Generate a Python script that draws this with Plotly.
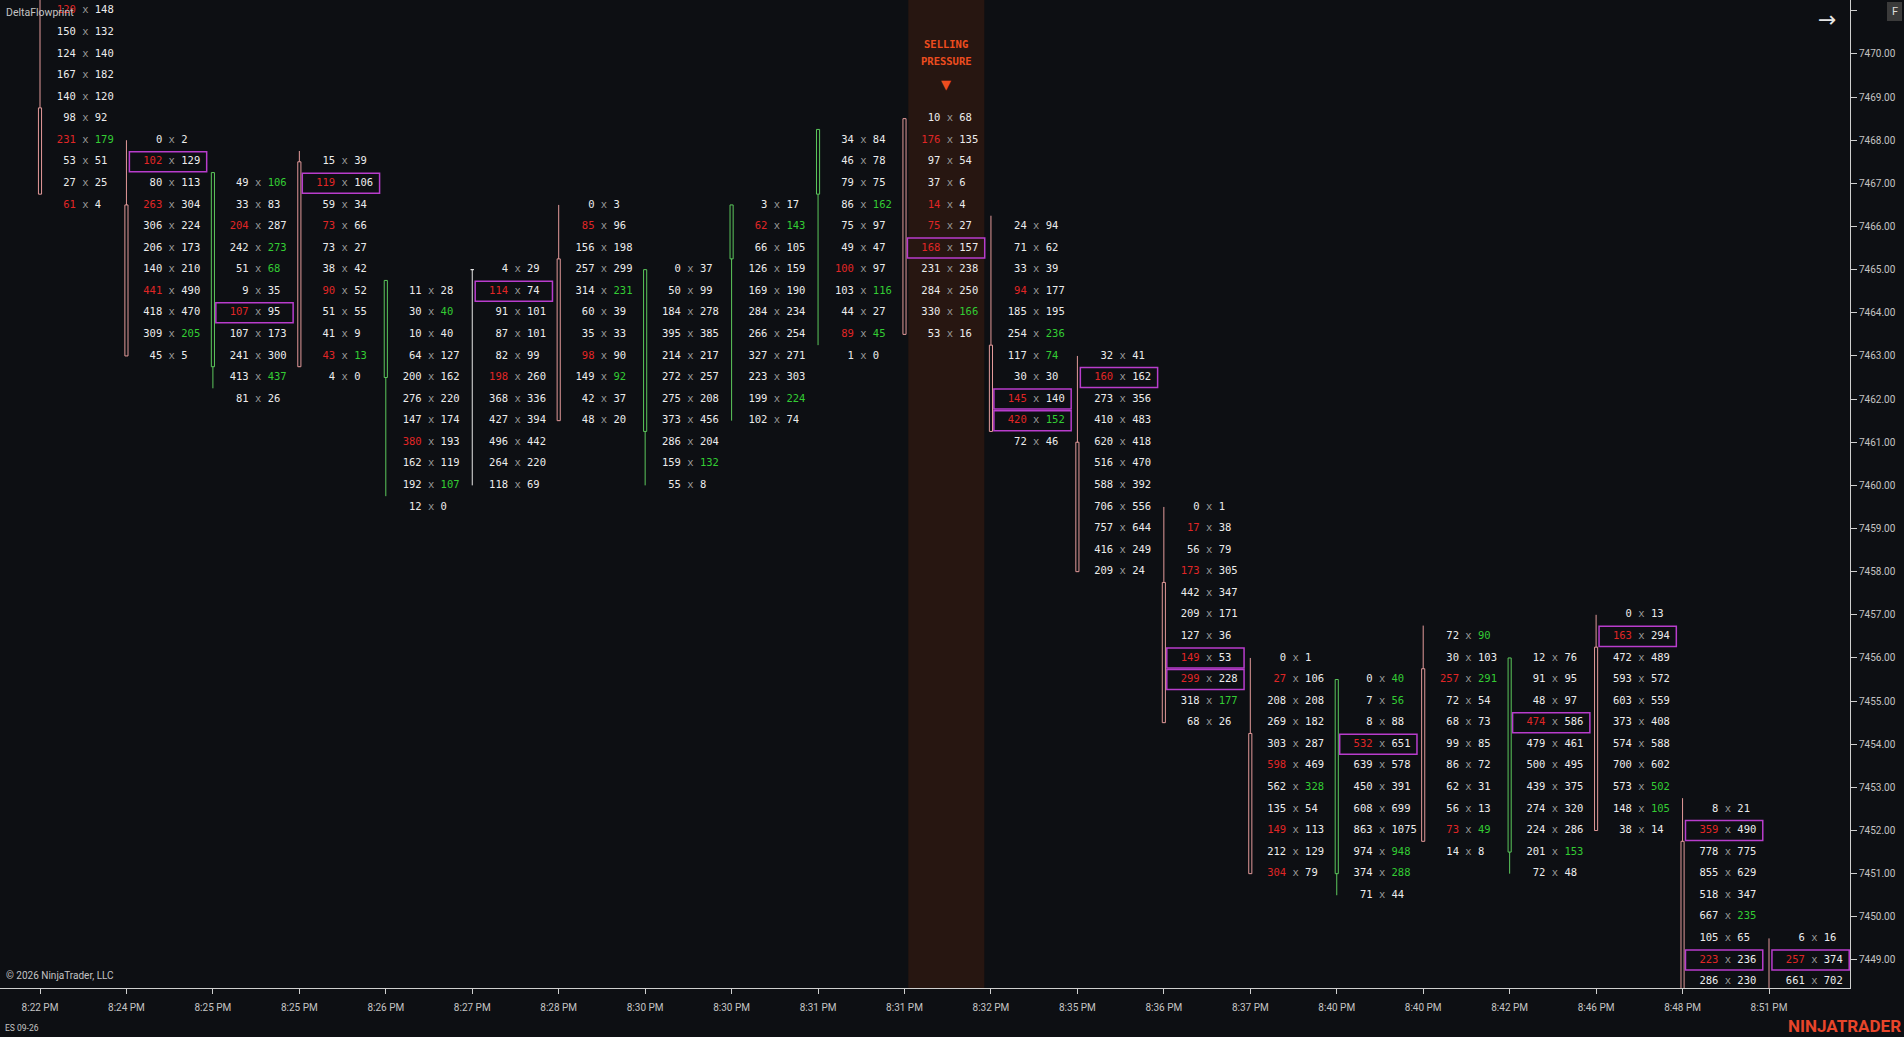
import plotly.graph_objects as go

# ---------------- data ----------------
time_labels = ["8:22 PM", "8:24 PM", "8:25 PM", "8:25 PM", "8:26 PM", "8:27 PM", "8:28 PM",
               "8:30 PM", "8:30 PM", "8:31 PM", "8:31 PM", "8:32 PM", "8:35 PM", "8:36 PM",
               "8:37 PM", "8:40 PM", "8:40 PM", "8:42 PM", "8:46 PM", "8:48 PM", "8:51 PM"]

# price of the top footprint row of every bar (rows step down by 0.5)
row_top = [7471.0, 7468.0, 7467.0, 7467.5, 7464.5, 7465.0, 7466.5, 7465.0, 7466.5, 7468.0,
           7468.5, 7466.0, 7463.0, 7459.5, 7456.0, 7455.5, 7456.5, 7456.0, 7457.0, 7452.5, 7449.5]

bids = [
    [120, 150, 124, 167, 140, 98, 231, 53, 27, 61],
    [0, 102, 80, 263, 306, 206, 140, 441, 418, 309, 45],
    [49, 33, 204, 242, 51, 9, 107, 107, 241, 413, 81],
    [15, 119, 59, 73, 73, 38, 90, 51, 41, 43, 4],
    [11, 30, 10, 64, 200, 276, 147, 380, 162, 192, 12],
    [4, 114, 91, 87, 82, 198, 368, 427, 496, 264, 118],
    [0, 85, 156, 257, 314, 60, 35, 98, 149, 42, 48],
    [0, 50, 184, 395, 214, 272, 275, 373, 286, 159, 55],
    [3, 62, 66, 126, 169, 284, 266, 327, 223, 199, 102],
    [34, 46, 79, 86, 75, 49, 100, 103, 44, 89, 1],
    [10, 176, 97, 37, 14, 75, 168, 231, 284, 330, 53],
    [24, 71, 33, 94, 185, 254, 117, 30, 145, 420, 72],
    [32, 160, 273, 410, 620, 516, 588, 706, 757, 416, 209],
    [0, 17, 56, 173, 442, 209, 127, 149, 299, 318, 68],
    [0, 27, 208, 269, 303, 598, 562, 135, 149, 212, 304],
    [0, 7, 8, 532, 639, 450, 608, 863, 974, 374, 71],
    [72, 30, 257, 72, 68, 99, 86, 62, 56, 73, 14],
    [12, 91, 48, 474, 479, 500, 439, 274, 224, 201, 72],
    [0, 163, 472, 593, 603, 373, 574, 700, 573, 148, 38],
    [8, 359, 778, 855, 518, 667, 105, 223, 286],
    [6, 257, 661],
]
asks = [
    [148, 132, 140, 182, 120, 92, 179, 51, 25, 4],
    [2, 129, 113, 304, 224, 173, 210, 490, 470, 205, 5],
    [106, 83, 287, 273, 68, 35, 95, 173, 300, 437, 26],
    [39, 106, 34, 66, 27, 42, 52, 55, 9, 13, 0],
    [28, 40, 40, 127, 162, 220, 174, 193, 119, 107, 0],
    [29, 74, 101, 101, 99, 260, 336, 394, 442, 220, 69],
    [3, 96, 198, 299, 231, 39, 33, 90, 92, 37, 20],
    [37, 99, 278, 385, 217, 257, 208, 456, 204, 132, 8],
    [17, 143, 105, 159, 190, 234, 254, 271, 303, 224, 74],
    [84, 78, 75, 162, 97, 47, 97, 116, 27, 45, 0],
    [68, 135, 54, 6, 4, 27, 157, 238, 250, 166, 16],
    [94, 62, 39, 177, 195, 236, 74, 30, 140, 152, 46],
    [41, 162, 356, 483, 418, 470, 392, 556, 644, 249, 24],
    [1, 38, 79, 305, 347, 171, 36, 53, 228, 177, 26],
    [1, 106, 208, 182, 287, 469, 328, 54, 113, 129, 79],
    [40, 56, 88, 651, 578, 391, 699, 1075, 948, 288, 44],
    [90, 103, 291, 54, 73, 85, 72, 31, 13, 49, 8],
    [76, 95, 97, 586, 461, 495, 375, 320, 286, 153, 48],
    [13, 294, 489, 572, 559, 408, 588, 602, 502, 105, 14],
    [21, 490, 775, 629, 347, 235, 65, 236, 230],
    [16, 374, 702],
]
# row indices (from the top of each bar) with a selling / buying imbalance
sell_imb = [[0, 6, 9], [1, 3, 7], [2, 6], [1, 3, 6, 9], [7], [1, 5], [1, 7], [], [1], [6, 9],
            [1, 4, 5, 6], [3, 8, 9], [1], [1, 3, 7, 8], [1, 5, 8, 10], [3], [2, 9], [3], [1], [1, 7], [1]]
buy_imb = [[6], [9], [0, 3, 4, 9], [9], [1, 9], [], [4, 8], [9], [1, 9], [3, 7, 9],
           [9], [5, 6, 9], [], [9], [6], [0, 1, 8, 9], [0, 2, 9], [9], [8, 9], [5], []]
# (bar, row) cells framed as stacked imbalance / unfinished auction
boxed = [(1, 1), (2, 6), (3, 1), (5, 1), (10, 6), (11, 8), (11, 9), (12, 1), (13, 7), (13, 8),
         (15, 3), (17, 3), (18, 1), (19, 1), (19, 7), (20, 1)]

opens = [7468.75, 7466.5, 7462.75, 7467.5, 7462.5, 7465.0, 7465.25, 7461.25, 7465.25, 7466.75, 7468.5,
         7463.25, 7461.0, 7457.75, 7454.25, 7451.0, 7455.75, 7451.5, 7456.25, 7451.75, 7448.25]
highs = [7471.25, 7468.0, 7467.25, 7467.75, 7464.75, 7465.0, 7466.5, 7465.0, 7466.5, 7468.25, 7468.5,
         7466.25, 7463.0, 7459.5, 7456.0, 7455.5, 7456.75, 7456.0, 7457.0, 7452.75, 7449.5]
lows = [7466.75, 7463.0, 7462.25, 7462.75, 7459.75, 7460.0, 7461.5, 7460.0, 7461.5, 7463.25, 7463.5,
        7461.25, 7458.0, 7454.5, 7451.0, 7450.5, 7451.75, 7451.0, 7452.0, 7448.25, 7448.0]
closes = [7466.75, 7463.0, 7467.25, 7462.75, 7464.75, 7465.0, 7461.5, 7465.0, 7466.5, 7468.25, 7463.5,
          7461.25, 7458.0, 7454.5, 7451.0, 7455.5, 7451.75, 7456.0, 7452.0, 7448.25, 7448.0]

price_ticks = list(range(7449, 7472))
highlight_bar = 10
ROW = 0.5

# ---------------- style ----------------
BG = "#0d0f13"
TXT = "#ececec"
XCOL = "#9a9a9a"
RED = "#e02626"
GREEN = "#33cc33"
C_DOWN = "#e39a9a"
C_UP = "#5cc85c"
C_DOJI = "#e6e6e6"
MAG = "#b83dcc"
AXIS = "#cfcfcf"
LBL = "#c4c4c4"
ORANGE = "#ee4d1f"
NB = "\u00a0"

W, H = 1904, 1037
ML, MR, MT, MB = 0, 54, 0, 49
PW, PH = W - ML - MR, H - MT - MB

X_RANGE = [-0.4627, 20.937]
Y_RANGE = [7448.35, 7471.25]

fig = go.Figure()

# footprint texts
xs, ys, texts = [], [], []
for i, (top, b, a) in enumerate(zip(row_top, bids, asks)):
    for j, (bv, av) in enumerate(zip(b, a)):
        bc = RED if j in sell_imb[i] else TXT
        ac = GREEN if j in buy_imb[i] else TXT
        s = (f'<span style="color:{bc}">{str(bv).rjust(4, NB)}</span>'
             f'<span style="color:{XCOL}">{NB}x{NB}</span>'
             f'<span style="color:{ac}">{str(av).ljust(4, NB)}</span>')
        xs.append(i + 0.524)
        ys.append(top - j * ROW)
        texts.append(s)

fig.add_trace(go.Scatter(
    x=xs, y=ys, text=texts, mode="text", textposition="middle center",
    textfont=dict(family="DejaVu Sans Mono", size=10.5, color=TXT),
    hoverinfo="skip", showlegend=False,
))

shapes = []
# highlighted bar band
shapes.append(dict(type="rect", xref="x", yref="paper", x0=highlight_bar + 0.044, x1=highlight_bar + 0.923,
                   y0=0, y1=1, fillcolor="#271611", line=dict(width=0), layer="below"))

# candles
BW = 0.018
for i, (o, h, l, c) in enumerate(zip(opens, highs, lows, closes)):
    col = C_DOWN if c < o else (C_UP if c > o else C_DOJI)
    shapes.append(dict(type="line", xref="x", yref="y", x0=i, x1=i, y0=l, y1=h,
                       line=dict(color=col, width=1)))
    shapes.append(dict(type="rect", xref="x", yref="y", x0=i - BW, x1=i + BW,
                       y0=min(o, c), y1=max(o, c), fillcolor=BG, line=dict(color=col, width=1)))

# imbalance boxes
for (i, j) in boxed:
    p = row_top[i] - j * ROW
    shapes.append(dict(type="rect", xref="x", yref="y", x0=i + 0.034, x1=i + 0.928,
                       y0=p - 0.232, y1=p + 0.232, line=dict(color=MAG, width=1.5)))

# "F" button
shapes.append(dict(type="rect", xref="paper", yref="paper", x0=1887 / PW, x1=1902 / PW,
                   y0=1 - 21 / PH, y1=1 - 2 / PH, fillcolor="#3b3b3b", line=dict(width=0)))

def py(px):
    return 1 - px / PH

annotations = [
    dict(text="DeltaFlowprint", xref="paper", yref="paper", x=4 / PW, y=py(12), xanchor="left",
         yanchor="middle", showarrow=False, font=dict(family="Roboto", size=10.5, color=LBL)),
    dict(text="© 2026 NinjaTrader, LLC", xref="paper", yref="paper", x=4 / PW, y=py(975), xanchor="left",
         yanchor="middle", showarrow=False, font=dict(family="Roboto", size=10, color=LBL)),
    dict(text="ES 09-26", xref="paper", yref="paper", x=3 / PW, y=py(1028), xanchor="left",
         yanchor="middle", showarrow=False, font=dict(family="Roboto", size=8.5, color=LBL)),
    dict(text="<b>NINJATRADER</b>", xref="paper", yref="paper", x=1903 / PW, y=py(1026), xanchor="right",
         yanchor="middle", showarrow=False, font=dict(family="Roboto", size=17, color="#e8452a")),
    dict(text="→", xref="paper", yref="paper", x=1827 / PW, y=py(20), xanchor="center",
         yanchor="middle", showarrow=False, font=dict(family="DejaVu Sans", size=22, color="#e6e6e6")),
    dict(text="F", xref="paper", yref="paper", x=1894.5 / PW, y=py(11.5), xanchor="center",
         yanchor="middle", showarrow=False, font=dict(family="Roboto", size=11, color="#dcdcdc")),
    dict(text="<b>SELLING</b>", xref="x", yref="paper", x=highlight_bar + 0.483, y=py(43.5), xanchor="center",
         yanchor="middle", showarrow=False, font=dict(family="DejaVu Sans Mono", size=10.5, color=ORANGE)),
    dict(text="<b>PRESSURE</b>", xref="x", yref="paper", x=highlight_bar + 0.483, y=py(61), xanchor="center",
         yanchor="middle", showarrow=False, font=dict(family="DejaVu Sans Mono", size=10.5, color=ORANGE)),
    dict(text="▼", xref="x", yref="paper", x=highlight_bar + 0.483, y=py(84), xanchor="center",
         yanchor="middle", showarrow=False, font=dict(family="DejaVu Sans", size=13, color=ORANGE)),
]

fig.update_layout(
    width=W, height=H, autosize=False,
    margin=dict(l=ML, r=MR, t=MT, b=MB, pad=0),
    paper_bgcolor=BG, plot_bgcolor=BG,
    showlegend=False,
    shapes=shapes,
    annotations=annotations,
    xaxis=dict(range=X_RANGE, tickmode="array", tickvals=list(range(len(time_labels))), ticktext=time_labels,
               showgrid=False, zeroline=False, showline=True, linecolor=AXIS, linewidth=1,
               ticks="outside", ticklen=5, tickcolor=AXIS, tickwidth=1,
               tickfont=dict(family="Roboto", size=10, color=LBL), ticklabelstandoff=5, fixedrange=True),
    yaxis=dict(range=Y_RANGE, side="right", tickmode="array", tickvals=price_ticks,
               ticktext=[f"{v:.2f}" if v < 7471 else "" for v in price_ticks],
               showgrid=False, zeroline=False, showline=True, linecolor=AXIS, linewidth=1,
               ticks="outside", ticklen=6, tickcolor=AXIS, tickwidth=1,
               tickfont=dict(family="Roboto", size=10, color=LBL), fixedrange=True),
)

fig.write_html("out.html", config={"displayModeBar": False})
